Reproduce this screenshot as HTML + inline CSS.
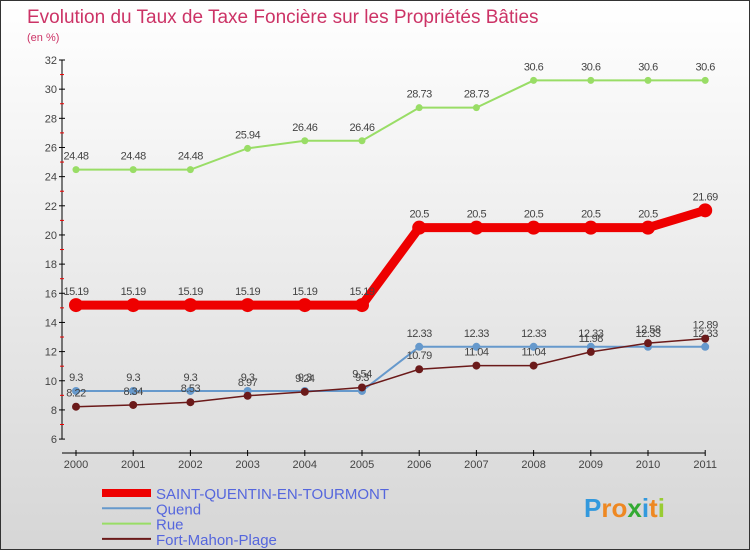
<!DOCTYPE html>
<html><head><meta charset="utf-8"><style>
body{margin:0;width:750px;height:550px;overflow:hidden;font-family:"Liberation Sans",sans-serif;}
#c{position:absolute;left:0;top:0;width:748px;height:548px;border:1px solid #333;background:linear-gradient(#ffffff,#d6d6d6);}
</style></head><body>
<div id="c">
<svg id="s" width="748" height="548" xmlns="http://www.w3.org/2000/svg"></svg>
</div>
<script>
const years=["2000","2001","2002","2003","2004","2005","2006","2007","2008","2009","2010","2011"];
const yTicks=[6,8,10,12,14,16,18,20,22,24,26,28,30,32];
const saint=[15.19,15.19,15.19,15.19,15.19,15.19,20.5,20.5,20.5,20.5,20.5,21.69];
const quend=[9.3,9.3,9.3,9.3,9.3,9.3,12.33,12.33,12.33,12.33,12.33,12.33];
const rue=[24.48,24.48,24.48,25.94,26.46,26.46,28.73,28.73,30.6,30.6,30.6,30.6];
const fort=[8.22,8.34,8.53,8.97,9.24,9.54,10.79,11.04,11.04,11.98,12.58,12.89];
const svg=document.getElementById('s');const NS='http://www.w3.org/2000/svg';
function X(i){return 75+i*57.2;}
function Y(v){return 59+(32-v)*14.58;}
function mk(t,a,txt){const e=document.createElementNS(NS,t);for(const k in a)e.setAttribute(k,a[k]);if(txt!==undefined)e.textContent=txt;svg.appendChild(e);return e;}
let e;
e=mk('text',{x:26,y:22,fill:'#cc3366','font-size':19},'Evolution du Taux de Taxe Foncière sur les Propriétés Bâties');


e=mk('text',{x:26,y:40,fill:'#cc3366','font-size':11},'(en %)');


e=mk('line',{x1:61,y1:Y(32),x2:61,y2:Y(6),stroke:'#000'});


e=mk('line',{x1:61,y1:452,x2:X(11),y2:452,stroke:'#000'});


yTicks.forEach(v=>{
 mk('line',{x1:58,y1:Y(v),x2:64,y2:Y(v),stroke:'#000'});
 if(v<32)mk('line',{x1:59,y1:Y(v+1),x2:63,y2:Y(v+1),stroke:'#e00'});
 e=mk('text',{x:56,y:Y(v)+4,'text-anchor':'end','font-size':11,fill:'#444'},v);
 
 
});
years.forEach((y,i)=>{
 mk('line',{x1:X(i),y1:449,x2:X(i),y2:455,stroke:'#000'});
 e=mk('text',{x:X(i),y:467,'text-anchor':'middle','font-size':11,fill:'#444'},y);
 
 
});
function series(d,col,w,r,name){
 e=mk('polyline',{points:d.map((v,i)=>X(i)+','+Y(v)).join(' '),fill:'none',stroke:col,'stroke-width':w});
 
 
 d.forEach((v,i)=>{
  e=mk('circle',{cx:X(i),cy:Y(v),r:r,fill:col});
  
  
  e=mk('text',{x:X(i),y:Y(v)-10,'text-anchor':'middle','font-size':11,fill:'#444','letter-spacing':'-0.5'},v);
  
  
 });
}
series(rue,'#99dd66',2,3.5,'rue');
series(quend,'#6699cc',2,4,'quend');
series(fort,'#6b1a1a',1.5,4,'fort-mahon');
series(saint,'#ee0000',9,7,'saint-quentin');
const leg=[['SAINT-QUENTIN-EN-TOURMONT','#ee0000',8],['Quend','#6699cc',2],['Rue','#99dd66',2],['Fort-Mahon-Plage','#6b1a1a',2]];
leg.forEach((l,i)=>{
 const yy=492+i*15.3;
 e=mk('line',{x1:101,y1:yy,x2:150,y2:yy,stroke:l[1],'stroke-width':l[2]});
 
 
 e=mk('text',{x:155,y:yy+6,'font-size':15,fill:'#5566dd'},l[0]);
 
 
});
e=mk('text',{x:583,y:516,'font-size':26,'font-weight':'bold',fill:'#ee8822'});


[['P','#3399dd'],['ro','#ee8822'],['x','#33aa33'],['i','#3399dd'],['t','#ee8822'],['i','#99cc33']].forEach(p=>{
 const t=document.createElementNS(NS,'tspan');t.setAttribute('fill',p[1]);t.textContent=p[0];e.appendChild(t);
});
</script>
</body></html>
